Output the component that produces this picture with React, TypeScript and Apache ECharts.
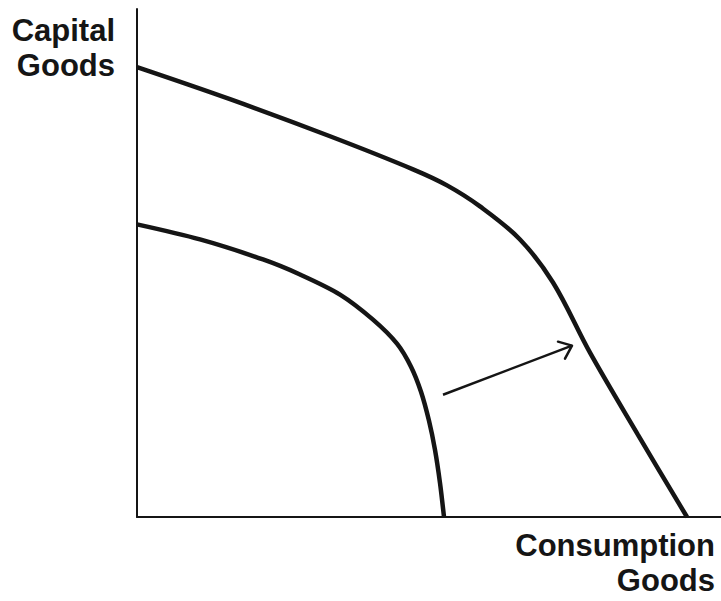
import React, { useEffect, useRef } from "react";
import * as echarts from "echarts";

// Outer PPF (after growth), x = consumption goods, y = capital goods
const outerX = [0, 93, 193, 276, 310, 343, 383, 416, 453, 501, 550];
const outerY = [449, 417, 380, 347, 331, 310, 277, 234, 164, 82, 0];

// Inner PPF (before growth)
const innerX = [0, 63, 126, 163, 203, 236, 260, 274, 284, 292, 298, 303, 307];
const innerY = [292, 277, 257, 242, 222, 197, 173, 150, 125, 96, 67, 34, 0];

// Shift arrow: shaft and head
const arrowShaft = [[306, 122], [435, 171]];
const arrowHead = [[421, 175], [435, 171], [428, 158]];

const yLabelLines = ["Capital", "Goods"];
const xLabelLines = ["Consumption", "Goods"];

const X_MAX = 584;
const Y_MAX = 507;

export default function App() {
  const ref = useRef<HTMLDivElement>(null);

  useEffect(() => {
    document.body.style.margin = "0";
    if (!ref.current) return;
    const chart = echarts.init(ref.current, null, { renderer: "svg" });
    const font = { fontFamily: "Liberation Sans, Arial, sans-serif", fontWeight: "bold" as const, fontSize: 31 };
    const ink = "#151515";
    chart.setOption({
      animation: false,
      backgroundColor: "#ffffff",
      grid: { left: 137, right: 0, top: 9, bottom: 84, containLabel: false },
      xAxis: {
        type: "value",
        min: 0,
        max: X_MAX,
        axisLine: { show: true, onZero: false, lineStyle: { color: ink, width: 2 } },
        axisTick: { show: false },
        axisLabel: { show: false },
        splitLine: { show: false },
      },
      yAxis: {
        type: "value",
        min: 0,
        max: Y_MAX,
        axisLine: { show: true, onZero: false, lineStyle: { color: ink, width: 2 } },
        axisTick: { show: false },
        axisLabel: { show: false },
        splitLine: { show: false },
      },
      series: [
        {
          type: "line",
          data: outerX.map((x, i) => [x, outerY[i]]),
          smooth: 0.35,
          symbol: "none",
          lineStyle: { color: ink, width: 4.5 },
        },
        {
          type: "line",
          data: innerX.map((x, i) => [x, innerY[i]]),
          smooth: 0.3,
          symbol: "none",
          lineStyle: { color: ink, width: 4.5 },
        },
        {
          type: "line",
          data: arrowShaft,
          symbol: "none",
          lineStyle: { color: ink, width: 2.5 },
        },
        {
          type: "line",
          data: arrowHead,
          symbol: "none",
          lineStyle: { color: ink, width: 2.5, join: "round", cap: "round" },
        },
      ],
      graphic: [
        ...yLabelLines.map((t, i) => ({
          type: "text",
          style: { text: t, x: 115, y: 30 + i * 35, textAlign: "right", textVerticalAlign: "middle", fill: ink, ...font },
        })),
        ...xLabelLines.map((t, i) => ({
          type: "text",
          style: { text: t, x: 715, y: 545 + i * 35, textAlign: "right", textVerticalAlign: "middle", fill: ink, ...font },
        })),
      ],
    });
    return () => chart.dispose();
  }, []);

  return <div ref={ref} style={{ width: 721, height: 601 }} />;
}
